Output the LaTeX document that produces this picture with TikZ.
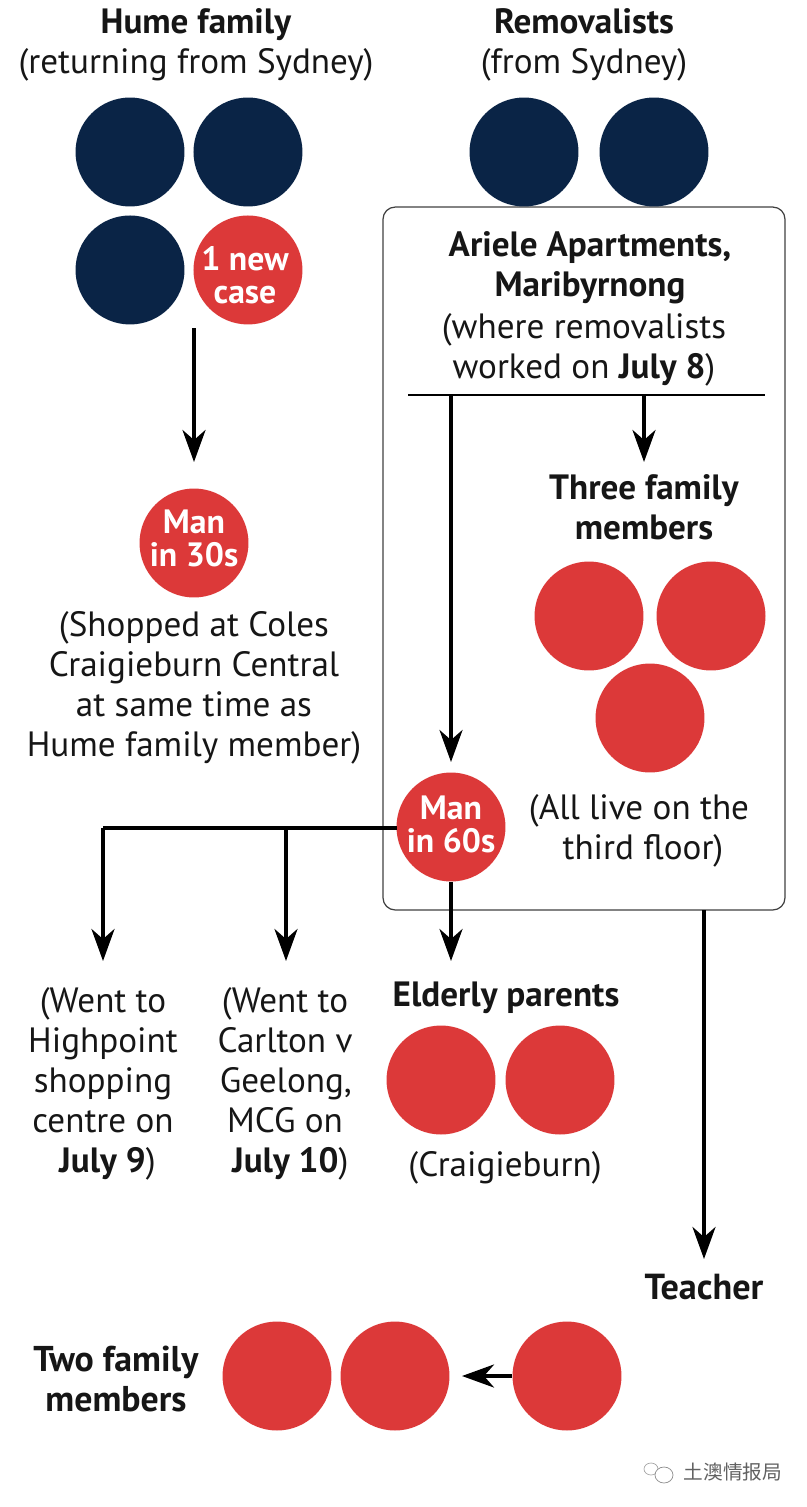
\documentclass[tikz,border=0pt]{standalone}
\usepackage{fontspec}
\setmainfont{PT Sans}
\newfontfamily\cjkfont{Noto Sans CJK SC}
\usepackage{tikz}
\usetikzlibrary{arrows.meta,positioning}

\definecolor{navy}{HTML}{0A2446}
\definecolor{casered}{HTML}{DC3939}
\definecolor{ink}{HTML}{161616}

\tikzset{
	navycase/.style={circle,fill=navy,minimum size=2.18cm,inner sep=0pt},
	redcase/.style={circle,fill=casered,minimum size=2.18cm,inner sep=0pt},
	casetext/.style={text=white,align=center,inner sep=0pt,font=\fontsize{19.2}{18.7}\selectfont\bfseries},
	caption/.style={align=center,text=ink,inner sep=0pt,font=\fontsize{20}{22.68}\selectfont},
	link/.style={-{Stealth[length=0.64cm,width=0.46cm,inset=0.2cm]},line width=2.2pt,black},
	plainlink/.style={line width=2.2pt,black}
}

\begin{document}
\begin{tikzpicture}[x=0.02cm,y=-0.02cm,node distance=2.36cm]
\useasboundingbox (0,0) rectangle (807,1507);

% outer box
\node[draw=black!75,line width=0.7pt,rounded corners=0.24cm,minimum width=8.04cm,minimum height=14.06cm,inner sep=0pt] (box) at (584,558.5) {};

% Hume family
\node[caption] (hume) at (196,45) {\textbf{Hume family}\\(returning from Sydney)};
\node[navycase] (H1) at (130,152) {};
\node[navycase] (H2) [right of=H1] {};
\node[navycase] (H3) [below of=H1] {};
\node[redcase] (H4) [below of=H2] {};
\node[casetext] (H4text) at (245,275.5) {1 new\\case};

% Removalists
\node[caption] (rem) at (584,45) {\textbf{Removalists}\\(from Sydney)};
\node[navycase] (R1) at (524,152) {};
\node[navycase] (R2) at (654,152) {};

% Ariele
\node[caption] (ariele) at (590,268) {\textbf{Ariele Apartments,}\\\textbf{Maribyrnong}};
\node[caption] (where) at (584,350) {(where removalists\\worked on \textbf{July 8})};
\coordinate (ruleL) at (408,395);
\coordinate (ruleR) at (765,395);
\coordinate (ruleA) at (451,395);
\coordinate (ruleB) at (644,395);
\draw[black,line width=0.7pt] (ruleL) -- (ruleR);

% Three family members
\node[caption] (three) at (644,507) {\textbf{Three family}\\\textbf{members}};
\node[redcase] (T1) at (589,616) {};
\node[redcase] (T2) at (711,616) {};
\node[redcase] (T3) at (650,718) {};
\node[caption] (live) at (639,831) {(All live on the\\\hspace*{4.5pt}third floor)};

% Man in 30s
\coordinate (humeA) at (194,328);
\coordinate (humeB) at (194,462);
\node[redcase] (M30) at (194,543) {};
\node[casetext] (M30text) at (194,538.5) {Man\\in 30s};
\node[caption] (coles) at (194,688) {(Shopped at Coles\\Craigieburn Central\\at same time as\\Hume family member)};

% Man in 60s
\node[redcase] (M60) at (451,827) {};
\node[casetext] (M60text) at (451,824) {Man\\in 60s};
\coordinate (jA) at (103,828);
\coordinate (jB) at (286,828);
\coordinate (jC) at (397,828);
\coordinate (downA) at (103,961);
\coordinate (downB) at (286,961);
\coordinate (downC) at (451,961);
\node[caption] (high) at (103,1084) {(Went to\\Highpoint\\shopping\\centre on\\\hspace*{5pt}\textbf{July 9})};
\node[caption] (carl) at (285,1084) {(Went to\\Carlton v\hspace*{9pt}\\\hspace*{1pt}Geelong,\\MCG on\\\hspace*{6pt}\textbf{July 10})};

% Elderly parents
\node[caption] (eld) at (506,998) {\textbf{Elderly parents}};
\node[redcase] (E1) at (441,1080) {};
\node[redcase] (E2) at (560,1080) {};
\node[caption] (craig) at (505,1168) {(Craigieburn)};

% Teacher
\coordinate (boxS) at (704,910);
\coordinate (teachA) at (704,1259);
\node[caption,font=\fontsize{20.6}{22.68}\selectfont] (teach) at (704,1287) {\textbf{Teacher}};
\node[redcase] (B3) at (567,1376) {};
\node[redcase] (B2) at (395,1376) {};
\node[redcase] (B1) at (277,1376) {};
\coordinate (backA) at (462,1376);
\node[caption,font=\fontsize{20.4}{22.68}\selectfont] (two) at (116,1379) {\textbf{Two family}\\\textbf{members}};

% watermark
\node[inner sep=0pt,text=black!62,font=\fontsize{11.2}{12}\cjkfont] (mark) at (733,1472) {土澳情报局};
\draw[black!35,line width=0.4pt] (651,1469) ellipse (7 and 6);
\draw[black!45,line width=0.4pt,fill=white] (664,1475) ellipse (9 and 8);

\draw[link] (humeA) -- (humeB);
\draw[link] (ruleA) -- (451,762);
\draw[link] (ruleB) -- (644,462);
\draw[plainlink] (jC) -- (jA);
\draw[link] (jA) -- (downA);
\draw[link] (jB) -- (downB);
\draw[link] (M60) -- (downC);
\draw[link] (boxS) -- (teachA);
\draw[link] (B3) -- (backA);

\end{tikzpicture}
\end{document}
